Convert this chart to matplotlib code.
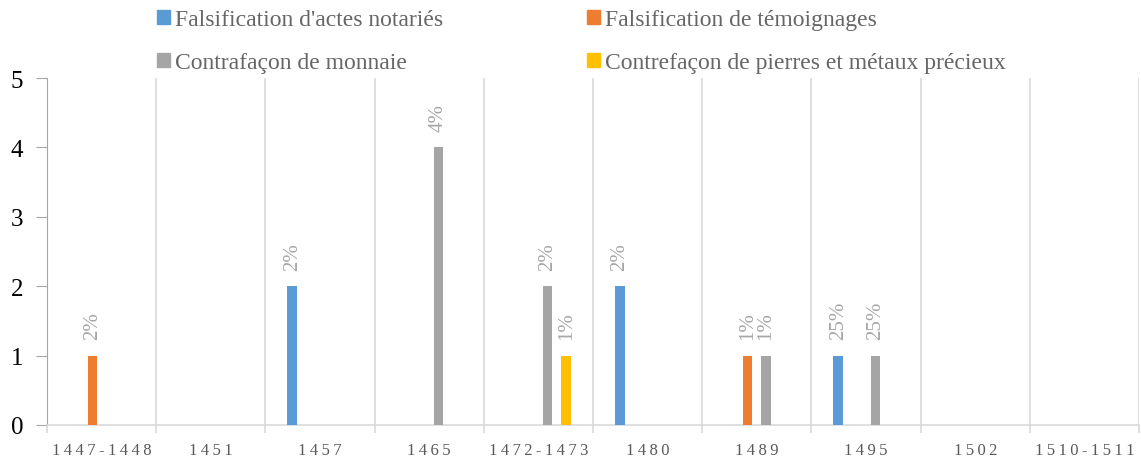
import numpy as np
import matplotlib
matplotlib.use("Agg")
import matplotlib.pyplot as plt
import matplotlib.patches as mpatches

plt.rcParams['font.family'] = ['Liberation Serif', 'DejaVu Serif']

# data
categories = ['1447-1448', '1451', '1457', '1465', '1472-1473',
              '1480', '1489', '1495', '1502', '1510-1511']
series_names = ["Falsification d'actes notariés",
                "Falsification de témoignages",
                "Contrafaçon de monnaie",
                "Contrefaçon de pierres et métaux précieux"]
actes = [0, 0, 2, 0, 0, 2, 0, 1, 0, 0]
temoignages = [1, 0, 0, 0, 0, 0, 1, 0, 0, 0]
monnaie = [0, 0, 0, 4, 2, 0, 1, 1, 0, 0]
pierres = [0, 0, 0, 0, 1, 0, 0, 0, 0, 0]
actes_pct = ['', '', '2%', '', '', '2%', '', '25%', '', '']
temoignages_pct = ['2%', '', '', '', '', '', '1%', '', '', '']
monnaie_pct = ['', '', '', '4%', '2%', '', '1%', '25%', '', '']
pierres_pct = ['', '', '', '', '1%', '', '', '', '', '']

colors = ['#5B9BD5', '#ED7D31', '#A5A5A5', '#FFC000']
values = [actes, temoignages, monnaie, pierres]
pcts = [actes_pct, temoignages_pct, monnaie_pct, pierres_pct]

W, H = 1141, 460
fig = plt.figure(figsize=(W / 100, H / 100), dpi=100)
ax = fig.add_axes([47 / W, 1 - 426 / H, (1139 - 47) / W, (426 - 79) / H])

x = np.arange(len(categories))
slot = 0.17
bw = 0.087
for i in range(4):
    bars = ax.bar(x + (i - 1.5) * slot, values[i], width=bw, color=colors[i],
                  zorder=3)
    ax.bar_label(bars, labels=pcts[i], rotation=90, padding=12,
                 color='#a6a6a6', fontsize=15)

ax.set_xlim(-0.5, len(categories) - 0.5)
ax.set_ylim(0, 5)
ax.set_yticks(range(6))

ax.set_xticks(x)
ax.set_xticklabels(['\u2009'.join(c) for c in categories])
ax.set_xticks(np.arange(-0.5, len(categories)), minor=True)
ax.grid(which='minor', axis='x', color='#d9d9d9', lw=1.2, zorder=0)

for s in ['top', 'right']:
    ax.spines[s].set_visible(False)
ax.spines['left'].set_color('#a6a6a6')
ax.spines['bottom'].set_color('#d9d9d9')
ax.spines['bottom'].set_linewidth(1.2)

ax.tick_params(axis='x', which='major', length=0, labelsize=12,
               labelcolor='#595959', pad=12)
ax.tick_params(axis='x', which='minor', length=6, color='#d9d9d9', width=1.2)
ax.tick_params(axis='y', length=8, color='#a6a6a6', labelsize=18,
               labelcolor='black', pad=9)

handles = [mpatches.Patch(color=c) for c in colors]
order = [0, 2, 1, 3]
fig.legend([handles[k] for k in order], [series_names[k] for k in order],
           ncol=2, loc='upper left', bbox_to_anchor=(157 / W, 1 - 10 / H),
           frameon=False, fontsize=17, labelcolor='#666666', borderpad=0,
           handlelength=0.55, handleheight=0.55, handletextpad=0.2,
           columnspacing=6.1, labelspacing=0.94, borderaxespad=0)

fig.savefig('out.png', dpi=100)
